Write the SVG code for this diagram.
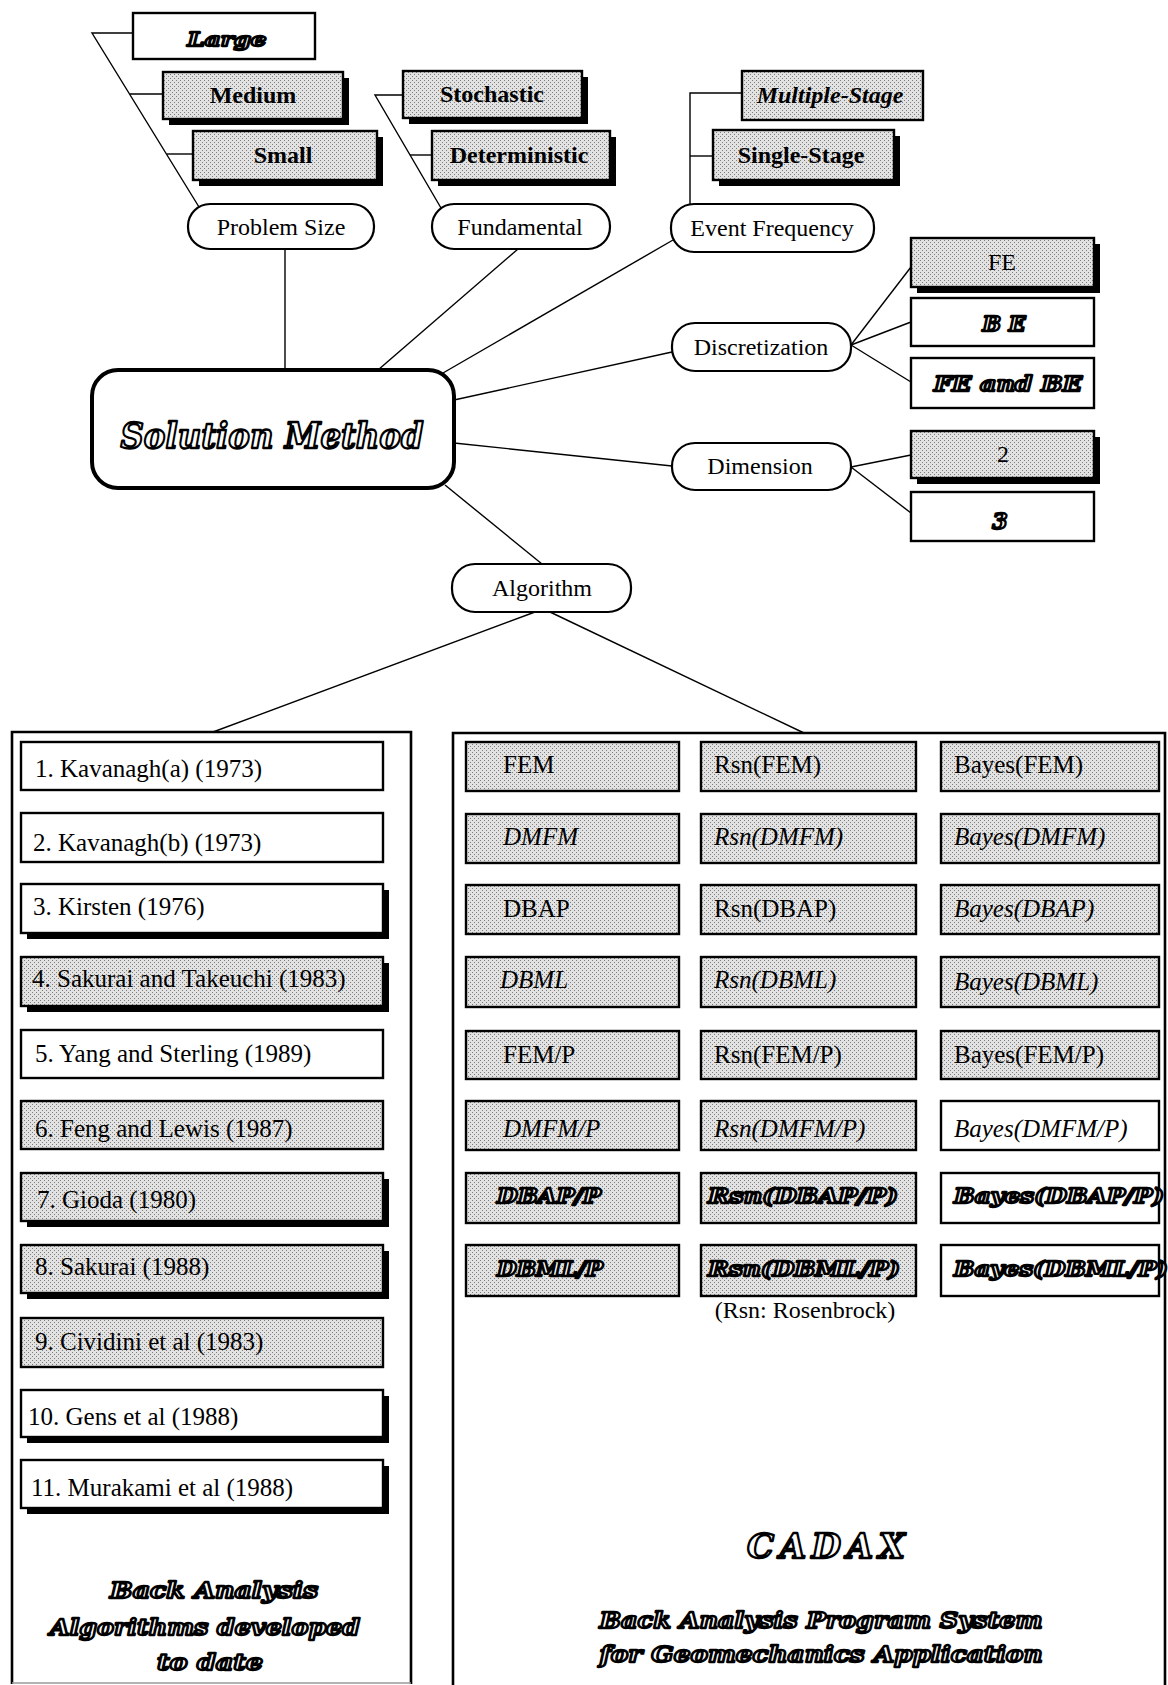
<svg xmlns="http://www.w3.org/2000/svg" width="1168" height="1685" viewBox="0 0 1168 1685">
  <style>
    .bg { fill: #ffffff; }
    .line { fill: none; stroke: #000; stroke-width: 1.4; }
    .pill { fill: #fff; stroke: #000; stroke-width: 2.2; }
    .box { stroke: #000; stroke-width: 2.4; }
    .plain { fill: #fff; }
    .dot { fill: url(#stipple); }
    .shadow { fill: #000; }
    .frame { fill: none; stroke: #000; stroke-width: 2.6; }
    .t { font-family: "Liberation Serif", "Times New Roman", serif; font-size: 25px; fill: #000; }
    .lbl { font-family: "Liberation Serif", "Times New Roman", serif; font-size: 24px; fill: #000; text-anchor: middle; }
    .it { font-style: italic; }
    .bd { font-weight: bold; }
    .ol { font-family: "DejaVu Serif", "Liberation Serif", serif; font-weight: bold; font-style: italic; fill: #fff; stroke: #000; stroke-width: 2.3; stroke-linejoin: round; }
  </style>
  <defs>
    <pattern id="stipple" width="4" height="4" patternUnits="userSpaceOnUse">
      <rect width="4" height="4" fill="#e2e2e2"/>
      <rect x="0" y="0" width="1" height="1" fill="#7c7c7c"/>
      <rect x="2" y="2" width="1" height="1" fill="#7c7c7c"/>
    </pattern>
  </defs>

  <rect class="bg" x="0" y="0" width="1168" height="1685"/>

  <!-- connectors -->
  <g id="connectors">
    <!-- problem size options -->
    <polyline class="line" points="133,33 92,33 199,207"/>
    <line class="line" x1="130" y1="94" x2="163" y2="94"/>
    <line class="line" x1="167" y1="154" x2="193" y2="154"/>
    <!-- fundamental options -->
    <polyline class="line" points="403,95 375,95 441,208"/>
    <line class="line" x1="410" y1="155" x2="432" y2="155"/>
    <!-- event frequency options -->
    <polyline class="line" points="742,93 690,93 690,204"/>
    <line class="line" x1="690" y1="156" x2="713" y2="156"/>
    <!-- categories to the central node -->
    <line class="line" x1="285" y1="249" x2="285" y2="370"/>
    <line class="line" x1="518" y1="249" x2="378" y2="370"/>
    <line class="line" x1="673" y1="240" x2="443" y2="373"/>
    <line class="line" x1="672" y1="352" x2="454" y2="400"/>
    <line class="line" x1="672" y1="466" x2="454" y2="443"/>
    <line class="line" x1="445" y1="485" x2="542" y2="564"/>
    <!-- discretization options -->
    <line class="line" x1="851" y1="345" x2="911" y2="267"/>
    <line class="line" x1="851" y1="345" x2="911" y2="322"/>
    <line class="line" x1="851" y1="345" x2="911" y2="382"/>
    <!-- dimension options -->
    <line class="line" x1="851" y1="467" x2="911" y2="455"/>
    <line class="line" x1="851" y1="467" x2="911" y2="513"/>
    <!-- algorithm to the two panels -->
    <line class="line" x1="535" y1="612" x2="213" y2="732"/>
    <line class="line" x1="550" y1="612" x2="804" y2="733"/>
  </g>

  <!-- size options -->
  <g id="opt-large">
    <rect class="box plain" x="133" y="13" width="182" height="46"/>
    <text class="ol" x="227" y="46" font-size="19" text-anchor="middle" textLength="79" lengthAdjust="spacingAndGlyphs">Large</text>
  </g>
  <g id="opt-medium">
    <rect class="shadow" x="169" y="78" width="180" height="47"/>
    <rect class="box dot" x="163" y="72" width="180" height="47"/>
    <text class="lbl bd" x="253" y="103" font-size="23">Medium</text>
  </g>
  <g id="opt-small">
    <rect class="shadow" x="199" y="137" width="184" height="49"/>
    <rect class="box dot" x="193" y="131" width="184" height="49"/>
    <text class="lbl bd" x="283" y="163" font-size="23">Small</text>
  </g>

  <!-- fundamental options -->
  <g id="opt-stochastic">
    <rect class="shadow" x="409" y="77" width="179" height="47"/>
    <rect class="box dot" x="403" y="71" width="179" height="47"/>
    <text class="lbl bd" x="492" y="102" font-size="22">Stochastic</text>
  </g>
  <g id="opt-deterministic">
    <rect class="shadow" x="438" y="137" width="178" height="49"/>
    <rect class="box dot" x="432" y="131" width="178" height="49"/>
    <text class="lbl bd" x="519" y="163" font-size="22">Deterministic</text>
  </g>

  <!-- event frequency options -->
  <g id="opt-multiple">
    <rect class="box dot" x="742" y="71" width="181" height="49"/>
    <text class="lbl bd it" x="830" y="103" font-size="22">Multiple-Stage</text>
  </g>
  <g id="opt-single">
    <rect class="shadow" x="719" y="136" width="181" height="50"/>
    <rect class="box dot" x="713" y="130" width="181" height="50"/>
    <text class="lbl bd" x="801" y="163" font-size="23">Single-Stage</text>
  </g>

  <!-- discretization options -->
  <g id="opt-fe">
    <rect class="shadow" x="917" y="244" width="183" height="49"/>
    <rect class="box dot" x="911" y="238" width="183" height="49"/>
    <text class="lbl" x="1002" y="270" font-size="25">FE</text>
  </g>
  <g id="opt-be">
    <rect class="box plain" x="911" y="298" width="183" height="48"/>
    <text class="ol" x="1004" y="331" font-size="20" text-anchor="middle" textLength="43" lengthAdjust="spacingAndGlyphs">B E</text>
  </g>
  <g id="opt-febe">
    <rect class="box plain" x="911" y="358" width="183" height="50"/>
    <text class="ol" x="1008" y="391" font-size="20" text-anchor="middle" textLength="148" lengthAdjust="spacingAndGlyphs">FE and BE</text>
  </g>

  <!-- dimension options -->
  <g id="opt-2d">
    <rect class="shadow" x="917" y="437" width="183" height="47"/>
    <rect class="box dot" x="911" y="431" width="183" height="47"/>
    <text class="lbl" x="1003" y="462" font-size="24">2</text>
  </g>
  <g id="opt-3d">
    <rect class="box plain" x="911" y="492" width="183" height="49"/>
    <text class="ol" x="1000" y="529" font-size="22" text-anchor="middle">3</text>
  </g>

  <!-- category nodes -->
  <g id="cat-size">
    <rect class="pill" x="188" y="204" width="186" height="45" rx="22"/>
    <text class="lbl" x="281" y="235">Problem Size</text>
  </g>
  <g id="cat-fundamental">
    <rect class="pill" x="432" y="204" width="178" height="45" rx="22"/>
    <text class="lbl" x="520" y="235">Fundamental</text>
  </g>
  <g id="cat-event">
    <rect class="pill" x="671" y="204" width="203" height="48" rx="23"/>
    <text class="lbl" x="772" y="236">Event Frequency</text>
  </g>
  <g id="cat-discretization">
    <rect class="pill" x="672" y="323" width="179" height="48" rx="23"/>
    <text class="lbl" x="761" y="355">Discretization</text>
  </g>
  <g id="cat-dimension">
    <rect class="pill" x="672" y="443" width="179" height="47" rx="23"/>
    <text class="lbl" x="760" y="474">Dimension</text>
  </g>
  <g id="cat-algorithm">
    <rect class="pill" x="452" y="564" width="179" height="48" rx="23"/>
    <text class="lbl" x="542" y="596">Algorithm</text>
  </g>

  <!-- central node -->
  <g id="solution-method">
    <rect x="92" y="370" width="362" height="118" rx="26" fill="#fff" stroke="#000" stroke-width="4"/>
    <text class="ol" x="272" y="448" font-size="36" text-anchor="middle" stroke-width="4" textLength="303" lengthAdjust="spacingAndGlyphs">Solution Method</text>
  </g>

  <!-- panel: published algorithms -->
  <g id="panel-published">
    <path class="frame" d="M12,1684 V732 H411 V1684"/>
    <line x1="12" y1="1683" x2="411" y2="1683" stroke="#9a9a9a" stroke-width="1.5"/>

    <g id="alg-1">
      <rect class="box plain" x="21" y="742" width="362" height="48"/>
      <text class="t" x="35" y="777">1. Kavanagh(a) (1973)</text>
    </g>
    <g id="alg-2">
      <rect class="box plain" x="21" y="813" width="362" height="49"/>
      <text class="t" x="33" y="851">2. Kavanagh(b) (1973)</text>
    </g>
    <g id="alg-3">
      <rect class="shadow" x="27" y="890" width="362" height="49"/>
      <rect class="box plain" x="21" y="884" width="362" height="49"/>
      <text class="t" x="33" y="915">3. Kirsten (1976)</text>
    </g>
    <g id="alg-4">
      <rect class="shadow" x="27" y="963" width="362" height="49"/>
      <rect class="box dot" x="21" y="957" width="362" height="49"/>
      <text class="t" x="32" y="987">4. Sakurai and Takeuchi (1983)</text>
    </g>
    <g id="alg-5">
      <rect class="box plain" x="21" y="1030" width="362" height="48"/>
      <text class="t" x="35" y="1062">5. Yang and Sterling (1989)</text>
    </g>
    <g id="alg-6">
      <rect class="box dot" x="21" y="1101" width="362" height="48"/>
      <text class="t" x="35" y="1137">6. Feng and Lewis (1987)</text>
    </g>
    <g id="alg-7">
      <rect class="shadow" x="27" y="1179" width="362" height="48"/>
      <rect class="box dot" x="21" y="1173" width="362" height="48"/>
      <text class="t" x="37" y="1208">7. Gioda (1980)</text>
    </g>
    <g id="alg-8">
      <rect class="shadow" x="27" y="1251" width="362" height="48"/>
      <rect class="box dot" x="21" y="1245" width="362" height="48"/>
      <text class="t" x="35" y="1275">8. Sakurai (1988)</text>
    </g>
    <g id="alg-9">
      <rect class="box dot" x="21" y="1318" width="362" height="49"/>
      <text class="t" x="35" y="1350">9. Cividini et al (1983)</text>
    </g>
    <g id="alg-10">
      <rect class="shadow" x="27" y="1396" width="362" height="47"/>
      <rect class="box plain" x="21" y="1390" width="362" height="47"/>
      <text class="t" x="28" y="1425">10. Gens et al (1988)</text>
    </g>
    <g id="alg-11">
      <rect class="shadow" x="27" y="1466" width="362" height="48"/>
      <rect class="box plain" x="21" y="1460" width="362" height="48"/>
      <text class="t" x="31" y="1496">11. Murakami et al (1988)</text>
    </g>

    <g id="published-title">
      <text class="ol" x="214" y="1598" font-size="22" text-anchor="middle" stroke-width="2.6" textLength="208" lengthAdjust="spacingAndGlyphs">Back Analysis</text>
      <text class="ol" x="205" y="1635" font-size="22" text-anchor="middle" stroke-width="2.6" textLength="310" lengthAdjust="spacingAndGlyphs">Algorithms developed</text>
      <text class="ol" x="210" y="1670" font-size="22" text-anchor="middle" stroke-width="2.6" textLength="106" lengthAdjust="spacingAndGlyphs">to date</text>
    </g>
  </g>

  <!-- panel: CADAX program system -->
  <g id="panel-cadax">
    <path class="frame" d="M453,1686 V733 H1165 V1686"/>

    <!-- row 1 -->
    <g id="c-fem"><rect class="box dot" x="466" y="742" width="213" height="49"/><text class="t" x="503" y="773">FEM</text></g>
    <g id="c-rsn-fem"><rect class="box dot" x="701" y="742" width="215" height="49"/><text class="t" x="714" y="773">Rsn(FEM)</text></g>
    <g id="c-bayes-fem"><rect class="box dot" x="941" y="742" width="218" height="49"/><text class="t" x="954" y="773">Bayes(FEM)</text></g>
    <!-- row 2 -->
    <g id="c-dmfm"><rect class="box dot" x="466" y="814" width="213" height="49"/><text class="t it" x="503" y="845">DMFM</text></g>
    <g id="c-rsn-dmfm"><rect class="box dot" x="701" y="814" width="215" height="49"/><text class="t it" x="714" y="845">Rsn(DMFM)</text></g>
    <g id="c-bayes-dmfm"><rect class="box dot" x="941" y="814" width="218" height="49"/><text class="t it" x="954" y="845">Bayes(DMFM)</text></g>
    <!-- row 3 -->
    <g id="c-dbap"><rect class="box dot" x="466" y="885" width="213" height="49"/><text class="t" x="503" y="917">DBAP</text></g>
    <g id="c-rsn-dbap"><rect class="box dot" x="701" y="885" width="215" height="49"/><text class="t" x="714" y="917">Rsn(DBAP)</text></g>
    <g id="c-bayes-dbap"><rect class="box dot" x="941" y="885" width="218" height="49"/><text class="t it" x="954" y="917">Bayes(DBAP)</text></g>
    <!-- row 4 -->
    <g id="c-dbml"><rect class="box dot" x="466" y="957" width="213" height="50"/><text class="t it" x="500" y="988">DBML</text></g>
    <g id="c-rsn-dbml"><rect class="box dot" x="701" y="957" width="215" height="50"/><text class="t it" x="714" y="988">Rsn(DBML)</text></g>
    <g id="c-bayes-dbml"><rect class="box dot" x="941" y="957" width="218" height="50"/><text class="t it" x="954" y="990">Bayes(DBML)</text></g>
    <!-- row 5 -->
    <g id="c-femp"><rect class="box dot" x="466" y="1031" width="213" height="48"/><text class="t" x="503" y="1063">FEM/P</text></g>
    <g id="c-rsn-femp"><rect class="box dot" x="701" y="1031" width="215" height="48"/><text class="t" x="714" y="1063">Rsn(FEM/P)</text></g>
    <g id="c-bayes-femp"><rect class="box dot" x="941" y="1031" width="218" height="48"/><text class="t" x="954" y="1063">Bayes(FEM/P)</text></g>
    <!-- row 6 -->
    <g id="c-dmfmp"><rect class="box dot" x="466" y="1101" width="213" height="49"/><text class="t it" x="503" y="1137">DMFM/P</text></g>
    <g id="c-rsn-dmfmp"><rect class="box dot" x="701" y="1101" width="215" height="49"/><text class="t it" x="714" y="1137">Rsn(DMFM/P)</text></g>
    <g id="c-bayes-dmfmp"><rect class="box plain" x="941" y="1101" width="218" height="49"/><text class="t it" x="954" y="1137">Bayes(DMFM/P)</text></g>
    <!-- row 7 -->
    <g id="c-dbapp"><rect class="box dot" x="466" y="1173" width="213" height="50"/><text class="ol" x="497" y="1203" font-size="20" textLength="104" lengthAdjust="spacingAndGlyphs">DBAP/P</text></g>
    <g id="c-rsn-dbapp"><rect class="box dot" x="701" y="1173" width="215" height="50"/><text class="ol" x="708" y="1203" font-size="20" textLength="190" lengthAdjust="spacingAndGlyphs">Rsn(DBAP/P)</text></g>
    <g id="c-bayes-dbapp"><rect class="box plain" x="941" y="1173" width="218" height="50"/><text class="ol" x="954" y="1203" font-size="20" textLength="210" lengthAdjust="spacingAndGlyphs">Bayes(DBAP/P)</text></g>
    <!-- row 8 -->
    <g id="c-dbmlp"><rect class="box dot" x="466" y="1245" width="213" height="51"/><text class="ol" x="497" y="1276" font-size="20" textLength="106" lengthAdjust="spacingAndGlyphs">DBML/P</text></g>
    <g id="c-rsn-dbmlp"><rect class="box dot" x="701" y="1245" width="215" height="51"/><text class="ol" x="708" y="1276" font-size="20" textLength="192" lengthAdjust="spacingAndGlyphs">Rsn(DBML/P)</text></g>
    <g id="c-bayes-dbmlp"><rect class="box plain" x="941" y="1245" width="218" height="51"/><text class="ol" x="954" y="1276" font-size="20" textLength="214" lengthAdjust="spacingAndGlyphs">Bayes(DBML/P)</text></g>

    <text class="lbl" x="805" y="1318">(Rsn: Rosenbrock)</text>

    <g id="cadax-title">
      <text class="ol" x="826" y="1558" font-size="34" font-weight="normal" text-anchor="middle" stroke-width="1.6" textLength="158" lengthAdjust="spacing">CADAX</text>
      <text class="ol" x="821" y="1628" font-size="22" text-anchor="middle" stroke-width="2.6" textLength="443" lengthAdjust="spacingAndGlyphs">Back Analysis Program System</text>
      <text class="ol" x="821" y="1662" font-size="22" text-anchor="middle" stroke-width="2.6" textLength="443" lengthAdjust="spacingAndGlyphs">for Geomechanics Application</text>
    </g>
  </g>
</svg>
